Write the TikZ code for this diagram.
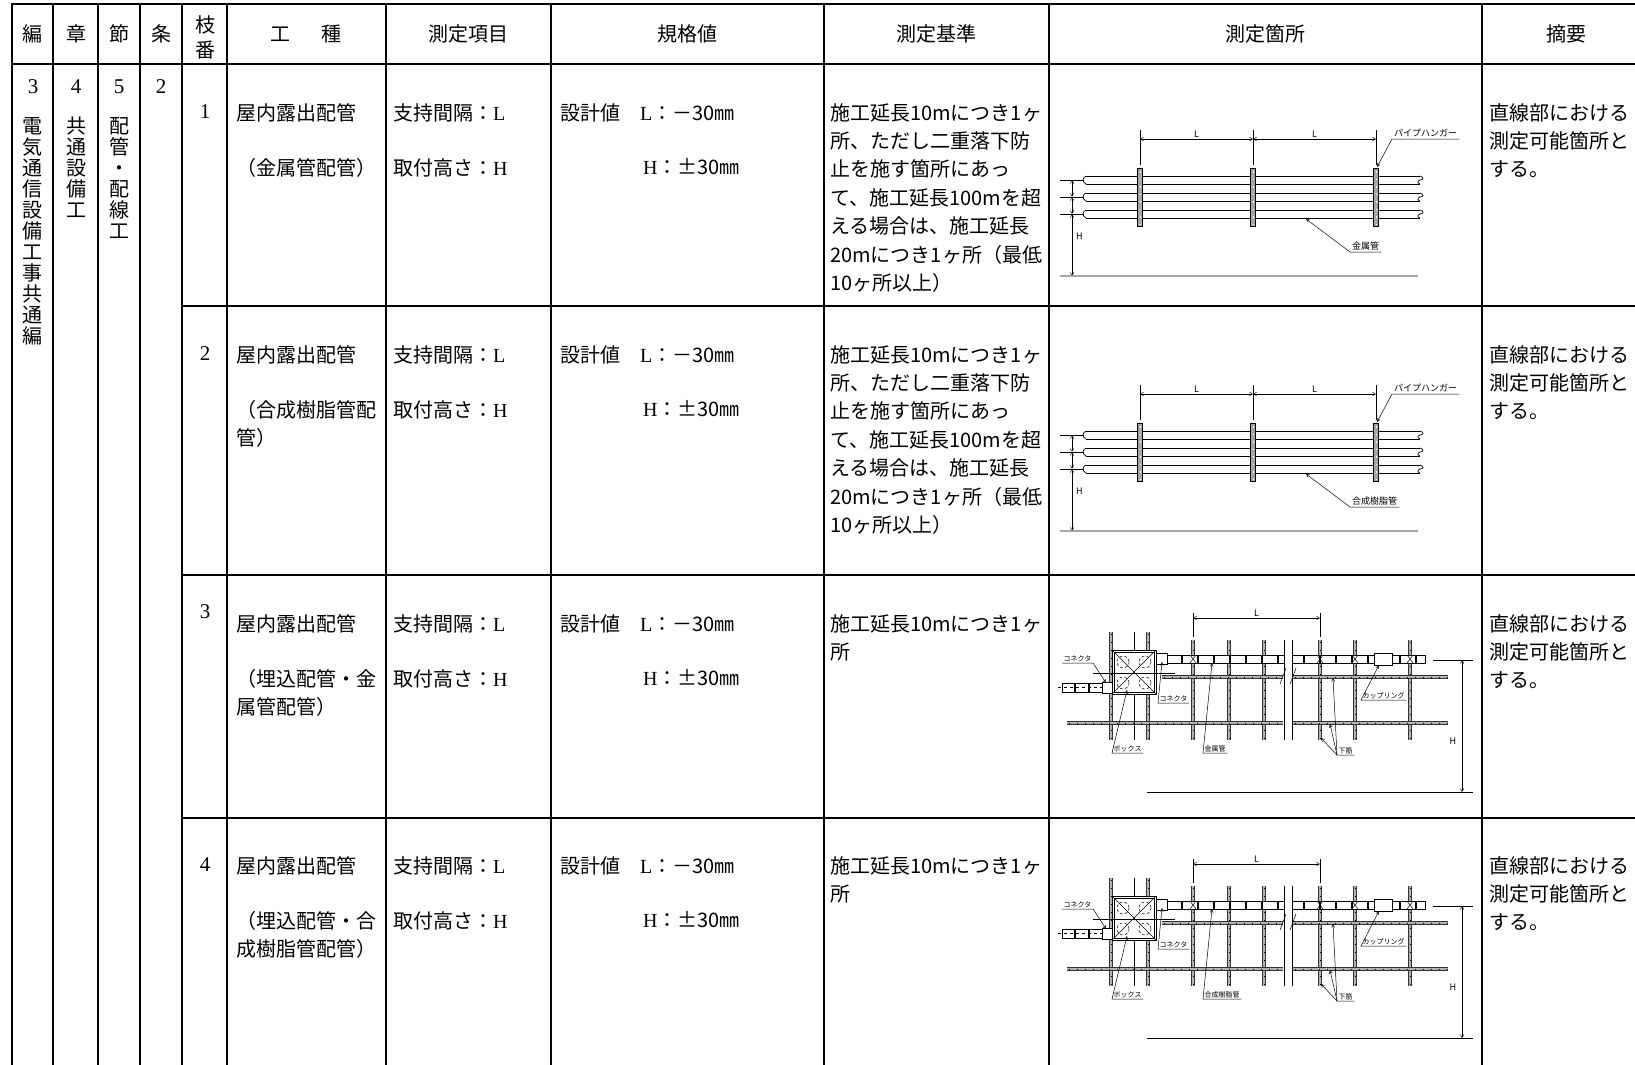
\documentclass[tikz,border=0pt]{standalone}
\usepackage{fontspec}
\setmainfont{Noto Sans CJK JP}
\newfontfamily\latfont{Liberation Serif}
\usetikzlibrary{arrows.meta, positioning}

\begin{document}
\begin{tikzpicture}[
    x=1pt, y=-1pt,
    grid/.style={line width=2.6pt, line cap=rect},
    head/.style={font=\fontsize{20}{25}\selectfont, inner sep=0pt, align=center},
    cell/.style={font=\fontsize{20}{28.4}\selectfont, inner sep=0pt, anchor=north west, align=left},
    num/.style={font=\latfont\fontsize{21}{25}\selectfont, inner sep=0pt},
    vtext/.style={font=\fontsize{20}{21}\selectfont, inner sep=0pt, anchor=north, align=center},
    thin/.style={line width=0.5pt},
    dim/.style={line width=0.5pt, {Straight Barb[length=3pt,width=3.5pt]}-{Straight Barb[length=3pt,width=3.5pt]}},
    leader/.style={line width=0.5pt, -{Straight Barb[length=3pt,width=3pt]}},
    tag/.style={font=\fontsize{9}{10}\selectfont, inner xsep=2pt, inner ysep=1.5pt},
    minitag/.style={font=\fontsize{7}{8}\selectfont, inner xsep=1.5pt, inner ysep=1pt},
    hanger/.style={draw, line width=0.6pt, fill=gray!70},
    pipe/.style={line width=0.7pt},
    ground/.style={line width=1.4pt, draw=gray!70},
    rebar/.style={draw=black!80, double=gray!60, double distance=1.8pt, line width=0.7pt},
    rebardot/.style={line width=0.8pt, dash pattern=on 1pt off 7pt},
    conduit/.style={draw, line width=0.6pt, fill=white}
]
    \useasboundingbox (0,0) rectangle (1635,1065);

    % 表の罫線
    \draw[grid] (12,4) -- (1635,4);
    \draw[grid] (12,64) -- (1635,64);
    \foreach \y in {306,575,818} \draw[grid] (182,\y) -- (1635,\y);
    \foreach \x in {12,53,98,140,182,227,386,551,824,1049,1482} \draw[grid] (\x,4) -- (\x,1065);

    % 見出し
    \node[head] (h-hen) at (33,34) {編};
    \node[head] (h-sho) at (76,34) {章};
    \node[head] (h-setsu) at (119,34) {節};
    \node[head] (h-jo) at (161,34) {条};
    \node[head] (h-eda) at (205,37) {枝\\番};
    \node[head] (h-koshu) at (306,34) {工\hspace{31pt}種};
    \node[head] (h-komoku) at (468,34) {測定項目};
    \node[head] (h-kikaku) at (687,34) {規格値};
    \node[head] (h-kijun) at (936,34) {測定基準};
    \node[head] (h-kasho) at (1265,34) {測定箇所};
    \node[head] (h-tekiyo) at (1566,34) {摘要};

    % 編・章・節・条
    \node[num] (hen-no) at (33,87) {3};
    \node[vtext] (hen-name) at (33,117) {電\\気\\通\\信\\設\\備\\工\\事\\共\\通\\編};
    \node[num] (sho-no) at (76,87) {4};
    \node[vtext] (sho-name) at (76,117) {共\\通\\設\\備\\工};
    \node[num] (setsu-no) at (119,87) {5};
    \node[vtext] (setsu-name) at (119,117) {配\\管\\・\\配\\線\\工};
    \node[num] (jo-no) at (161,87) {2};

    % 枝番ごとの行
    \node[num] (eda1) at (205,112) {1};
    \node[cell] (koshu1) at (236,103) {屋内露出配管\\[27pt]（金属管配管）};
    \node[cell] (kijun1) at (830,103) {施工延長10mにつき1ヶ\\所、ただし二重落下防\\止を施す箇所にあっ\\て、施工延長100mを超\\える場合は、施工延長\\20mにつき1ヶ所（最低\\10ヶ所以上）};

    \node[num] (eda2) at (205,354) {2};
    \node[cell] (koshu2) at (236,345) {屋内露出配管\\[27pt]（合成樹脂管配\\管）};
    \node[cell] (kijun2) at (830,345) {施工延長10mにつき1ヶ\\所、ただし二重落下防\\止を施す箇所にあっ\\て、施工延長100mを超\\える場合は、施工延長\\20mにつき1ヶ所（最低\\10ヶ所以上）};

    \node[num] (eda3) at (205,612) {3};
    \node[cell] (koshu3) at (236,614) {屋内露出配管\\[27pt]（埋込配管・金\\属管配管）};
    \node[cell] (kijun3) at (830,614) {施工延長10mにつき1ヶ\\所};

    \node[num] (eda4) at (205,865) {4};
    \node[cell] (koshu4) at (236,856) {屋内露出配管\\[27pt]（埋込配管・合\\成樹脂管配管）};
    \node[cell] (kijun4) at (830,856) {施工延長10mにつき1ヶ\\所};

    \foreach \r/\y in {1/103,2/345,3/614,4/856} {
        \node[cell] (komoku\r) at (393,\y) {支持間隔：{\latfont L}\\[27pt]取付高さ：{\latfont H}};
        \node[cell] (kikaku\r) at (560,\y) {設計値　{\latfont L}：－30㎜};
        \node[cell] (kikakuH\r) at (643,\y+55) {{\latfont H}：±30㎜};
        \node[cell] (tekiyo\r) at (1489,\y) {直線部における\\測定可能箇所と\\する。};
    }

    % 露出配管の図 (枝番1, 2)
    \foreach \dy/\pipename/\k in {0/金属管/1, 255/合成樹脂管/2} {
    \begin{scope}[shift={(0,\dy)}]
        \foreach \py in {176,193,210} {
            \draw[pipe] (1086,\py) -- (1420,\py) (1086,\py+8) -- (1420,\py+8);
            \draw[pipe] (1086,\py) .. controls (1082,\py+2) and (1082,\py+6) .. (1086,\py+8);
            \draw[pipe] (1420,\py) .. controls (1424,\py+1) and (1424,\py+4) .. (1420,\py+4);
            \draw[pipe] (1420,\py+4) .. controls (1417,\py+5) and (1417,\py+7) .. (1420,\py+8);
            \draw[thin] (1060,\py+4) -- (1084,\py+4);
        }
        \foreach \hx in {1140,1253,1376} {
            \draw[thin] (\hx,130) -- (\hx,165);
            \draw[hanger] (\hx-2.5,168) rectangle (\hx+2.5,226);
            \draw[white, line width=0.8pt, dash pattern=on 1.5pt off 6pt] (\hx,171) -- (\hx,224);
        }
        \draw[dim] (1140,139) -- node[tag, above] (L1-\k) {L} (1253,139);
        \draw[dim] (1253,139) -- node[tag, above] (L2-\k) {L} (1376,139);
        \draw[dim] (1072,180) -- (1072,197);
        \draw[dim] (1072,197) -- (1072,214);
        \draw[dim] (1072,214) -- (1072,276);
        \node[tag, anchor=west] (H-\k) at (1074,236) {H};
        \draw[ground] (1060,276) -- (1418,276);
        \node[tag, anchor=south west] (pipetag-\k) at (1350,252) {\pipename};
        \draw[leader] (pipetag-\k.south east) -- (pipetag-\k.south west) -- (1306,219);
        \node[tag, anchor=south west] (hangtag-\k) at (1392,139) {パイプハンガー};
        \draw[leader] (hangtag-\k.south east) -- (hangtag-\k.south west) -- (1377,167);
    \end{scope}
    }

    % 埋込配管の図 (枝番3, 4)
    \foreach \dy/\pipename/\k in {0/金属管/3, 246/合成樹脂管/4} {
    \begin{scope}[shift={(0,\dy)}]
        % 鉄筋
        \foreach \rx in {1111,1148} {
            \draw[rebar] (\rx,632) -- (\rx,740);
            \draw[rebardot] (\rx,634) -- (\rx,740);
        }
        \foreach \rx in {1193,1229,1264,1320,1355,1410} {
            \draw[rebar] (\rx,640) -- (\rx,740);
            \draw[rebardot] (\rx,642) -- (\rx,740);
        }
        \draw[rebar] (1162,677) -- (1283,677) (1293,677) -- (1448,677);
        \draw[rebar] (1067,723) -- (1283,723) (1293,723) -- (1448,723);
        \draw[rebardot] (1164,677) -- (1283,677) (1295,677) -- (1448,677);
        \draw[rebardot] (1069,723) -- (1283,723) (1295,723) -- (1448,723);
        % 破断線
        \draw[thin] (1284,640) -- (1284,740) (1292,640) -- (1292,740);
        \draw[thin] (1280,684) -- (1286,668) (1290,684) -- (1296,668);
        % 電線管
        \draw[conduit] (1167,655) rectangle (1284,663);
        \draw[conduit] (1292,655) rectangle (1425,663);
        \foreach \tx in {1182,1198,...,1278} \draw[line width=1.2pt] (\tx,655) -- (\tx,663);
        \foreach \tx in {1304,1320,...,1420} \draw[line width=1.2pt] (\tx,655) -- (\tx,663);
        \foreach \rx in {1193,1320,1355,1410}
            \draw[thin] (\rx-3,655) -- (\rx+3,663) (\rx-3,663) -- (\rx+3,655);
        \draw[conduit] (1374,653) rectangle (1392,665);
        % ボックス
        \draw[conduit, line width=0.8pt] (1112,650) rectangle (1156,694);
        \draw[thin] (1114,652) rectangle (1154,692);
        \draw[thin] (1112,650) -- (1156,694) (1112,694) -- (1156,650);
        \foreach \cx/\cy in {1123/662, 1145/662, 1123/683, 1145/683}
            \draw[thin, densely dashed] (\cx,\cy) circle (6pt);
        \draw[thin] (1134,632) -- (1134,650) (1134,694) -- (1134,740);
        \draw[thin] (1093,673) -- (1175,673);
        \draw[conduit] (1156,653) rectangle (1167,664);
        % 左側の配管
        \draw[conduit] (1062,683) rectangle (1102,692);
        \draw[thin, dashed] (1058,687.5) -- (1102,687.5);
        \foreach \tx in {1075,1089} \draw[line width=1.2pt] (\tx,683) -- (\tx,692);
        \draw[conduit] (1102,682) rectangle (1112,693);
        % 寸法
        \draw[thin] (1193,613) -- (1193,637) (1320,613) -- (1320,637);
        \draw[dim] (1193,618) -- node[tag, above] (L-\k) {L} (1320,618);
        \draw[thin] (1433,660) -- (1473,660);
        \draw[thin] (1147,792) -- (1473,792);
        \draw[dim] (1462,660) -- (1462,792);
        \node[tag] (H-\k) at (1453,741) {H};
        % 引出線
        \node[minitag, anchor=south west] (conL-\k) at (1062,663) {コネクタ};
        \draw[leader] (conL-\k.south west) -- (conL-\k.south east) -- (1106,683);
        \node[minitag, anchor=south west] (conR-\k) at (1158,703) {コネクタ};
        \draw[leader] (conR-\k.south east) -- (conR-\k.south west) -- (1162,662);
        \node[minitag, anchor=south west] (box-\k) at (1112,753) {ボックス};
        \draw[leader] (box-\k.south east) -- (box-\k.south west) -- (1127,690);
        \node[minitag, anchor=south west] (kan-\k) at (1203,753) {\pipename};
        \draw[leader] (kan-\k.south east) -- (kan-\k.south west) -- (1212,663);
        \node[minitag, anchor=south west] (shitakin-\k) at (1337,755) {下筋};
        \draw[leader] (shitakin-\k.south east) -- (shitakin-\k.south west) -- (1321,738);
        \draw[leader] (shitakin-\k.south west) -- (1330,724);
        \draw[leader] (shitakin-\k.south west) -- (1333,678);
        \node[minitag, anchor=south west] (cpl-\k) at (1361,700) {カップリング};
        \draw[leader] (cpl-\k.south east) -- (cpl-\k.south west) -- (1379,665);
    \end{scope}
    }

\end{tikzpicture}
\end{document}
